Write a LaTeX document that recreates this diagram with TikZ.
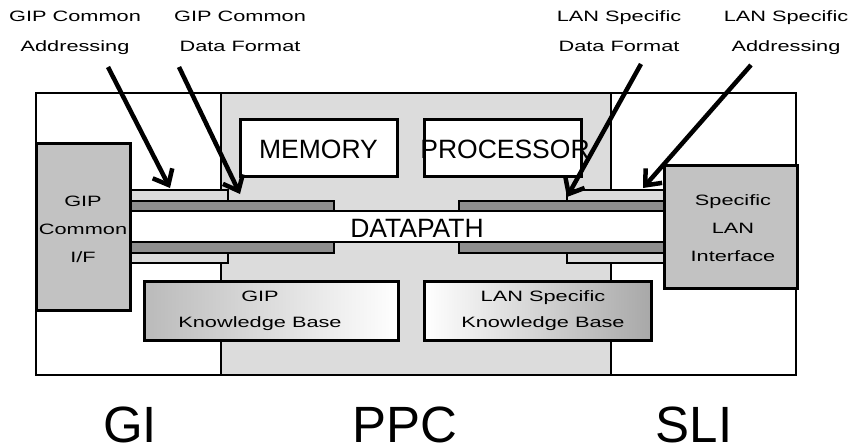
\documentclass[tikz,border=0pt]{standalone}
\usepackage{fontspec}
\setmainfont{Liberation Sans}
\newfontfamily\widefont[FakeStretch=1.45]{Liberation Sans}
\usetikzlibrary{arrows.meta}
\definecolor{ppcgray}{HTML}{DCDCDC}
\definecolor{ifgray}{HTML}{C2C2C2}
\definecolor{bargray}{HTML}{8E8E8E}
\definecolor{kbgrayl}{HTML}{BABABA}
\definecolor{kbgrayr}{HTML}{A8A8A8}
\begin{document}
\begin{tikzpicture}[x=1pt,y=-1pt,
  sz/.style 2 args={minimum width=#1pt, minimum height=#2pt},
  plain/.style={rectangle, inner sep=0pt, outer sep=0pt},
  region/.style={plain, draw=black, line width=2.6pt},
  box/.style={plain, draw=black, line width=3pt},
  bar/.style={plain, draw=black, line width=2.4pt},
  small/.style={inner sep=0pt, align=center, font=\widefont\fontsize{15}{28}\selectfont},
  kbtext/.style={inner sep=0pt, align=center, font=\widefont\fontsize{15}{26}\selectfont},
  toplabel/.style={inner sep=0pt, align=center, font=\widefont\fontsize{15}{30}\selectfont},
  big/.style={inner sep=0pt, anchor=base, font=\fontsize{26.5}{30}\selectfont},
  huge/.style={inner sep=0pt, anchor=base, font=\fontsize{51}{60}\selectfont},
  pointer/.style={line width=4.5pt, -{Straight Barb[length=13pt,width=22pt]}}]

\useasboundingbox (0,0) rectangle (852,447);
\fill[white] (0,0) rectangle (852,447);

% three regions
\node[region, fill=white, sz={185}{282}] (gi) at (128.5,234) {};
\node[region, fill=ppcgray, sz={390}{282}] (ppc) at (416,234) {};
\node[region, fill=white, sz={185}{282}] (sli) at (703.5,234) {};

% stubs (light)
\node[bar, fill=ppcgray, sz={98}{11}] (gtopl) at (179,195.5) {};
\node[bar, fill=ppcgray, sz={98}{10}] (gbotl) at (179,258) {};
\node[bar, fill=ppcgray, sz={99}{11}] (stopl) at (616.5,195.5) {};
\node[bar, fill=ppcgray, sz={99}{10}] (sbotl) at (616.5,258) {};
% bars (dark)
\node[bar, fill=bargray, sz={204}{10}] (gtopd) at (232,206) {};
\node[bar, fill=bargray, sz={204}{11}] (gbotd) at (232,247.5) {};
\node[bar, fill=bargray, sz={207}{10}] (stopd) at (562.5,206) {};
\node[bar, fill=bargray, sz={207}{11}] (sbotd) at (562.5,247.5) {};
% datapath
\node[bar, fill=white, sz={536}{31}] (datapath) at (398,226.5) {};
\node[big] (dptext) at (417,237) {DATAPATH};

% interfaces
\node[box, fill=ifgray, sz={94}{167}] (gif) at (83,226.5) {};
\node[small] (giftext) at (83,229) {GIP\\Common\\I/F};
\node[box, fill=ifgray, sz={133}{123}] (slif) at (730.5,226.5) {};
\node[small] (sliftext) at (733,228.5) {Specific\\LAN\\Interface};

% memory / processor
\node[box, fill=white, sz={157}{57}] (memory) at (318.5,147.5) {};
\node[big] (memtext) at (318.5,158) {MEMORY};
\node[box, fill=white, sz={157}{57}] (processor) at (502.5,147.5) {};
\node[big] (proctext) at (505,158) {PROCESSOR};

% knowledge bases
\node[box, left color=kbgrayl, right color=white, sz={254}{59}] (gkb) at (271,310.5) {};
\node[kbtext] (gkbtext) at (260,311) {GIP\\Knowledge Base};
\node[box, left color=white, right color=kbgrayr, sz={227}{59}] (lkb) at (537.5,310.5) {};
\node[kbtext] (lkbtext) at (543,311) {LAN Specific\\Knowledge Base};

% bottom labels
\node[huge] (gilabel) at (130,442) {GI};
\node[huge] (ppclabel) at (405,442) {PPC};
\node[huge] (slilabel) at (694,442) {SLI};

% top labels
\node[toplabel] (lab1) at (75,33) {GIP Common\\Addressing};
\node[toplabel] (lab2) at (240,31.5) {GIP Common\\Data Format};
\node[toplabel] (lab3) at (619,31.5) {LAN Specific\\Data Format};
\node[toplabel] (lab4) at (786,33) {LAN Specific\\Addressing};

% arrows
\coordinate (t1) at (108,67); \coordinate (h1) at (170,188);
\coordinate (t2) at (179,67); \coordinate (h2) at (240,194);
\coordinate (t3) at (641,64); \coordinate (h3) at (567,197);
\coordinate (t4) at (751,65); \coordinate (h4) at (643,188);
\draw[pointer] (t1) -- (h1);
\draw[pointer] (t2) -- (h2);
\draw[pointer] (t3) -- (h3);
\draw[pointer] (t4) -- (h4);
\end{tikzpicture}
\end{document}
